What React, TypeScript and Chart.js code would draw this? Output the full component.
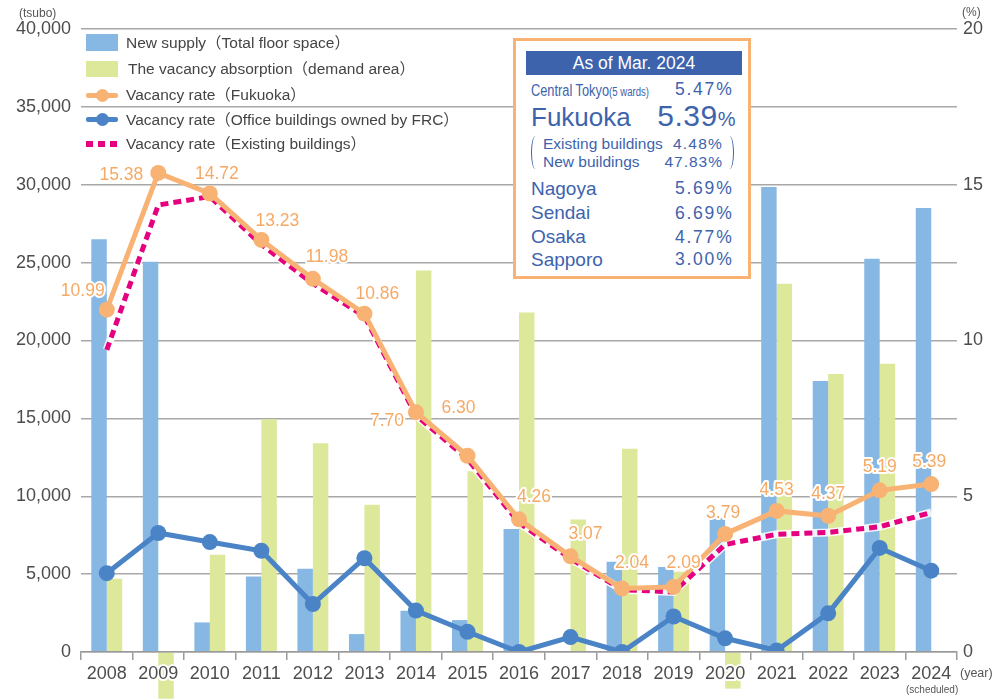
import React, { useEffect, useRef } from "react";
import { Chart, registerables } from "chart.js";

Chart.register(...registerables);

// ---------- data ----------
const years = ["2008", "2009", "2010", "2011", "2012", "2013", "2014", "2015", "2016", "2017", "2018", "2019", "2020", "2021", "2022", "2023", "2024"];
const newSupply = [26500, 25050, 1900, 4850, 5350, 1150, 2650, 2050, 7900, 0, 5800, 5450, 8600, 29850, 17400, 25250, 28500];
const absorption = [4700, -3000, 6250, 14950, 13400, 9450, 24500, 11600, 21800, 8500, 13050, 5150, -2350, 23650, 17850, 18500, null];
const vacancyFukuoka = [10.99, 15.38, 14.72, 13.23, 11.98, 10.86, 7.7, 6.3, 4.26, 3.07, 2.04, 2.09, 3.79, 4.53, 4.37, 5.19, 5.39];
const vacancyExisting = [9.7, 14.35, 14.62, 13.08, 11.83, 10.78, 7.6, 6.2, 4.15, 3.0, 2.0, 1.93, 3.45, 3.78, 3.84, 4.02, 4.48];
const vacancyFRC = [2.53, 3.82, 3.53, 3.25, 1.54, 3.01, 1.33, 0.65, 0, 0.48, 0, 1.14, 0.44, 0.05, 1.24, 3.34, 2.61];

const leftMin = 0;
const leftMax = 40000;
const leftStep = 5000;
const rightMin = 0;
const rightMax = 20;
const rightStep = 5;

const cityNames = ["Nagoya", "Sendai", "Osaka", "Sapporo"];
const cityRates = ["5.69%", "6.69%", "4.77%", "3.00%"];

// label placement offsets (style) for the Fukuoka data labels, dx/dy from point
const labelOffsets: [number, number][] = [
  [-24, -18], [-37, 2], [7, -19], [16, -19], [14, -22], [13, -20], [-29, 9], [-9, -48],
  [15, -22], [15, -22], [10, -25], [10, -24], [-2, -21], [0, -21], [0, -22], [0, -23], [-2, -22],
];

const FONT = '"Liberation Sans", Arial, "Noto Sans CJK JP", sans-serif';
const BAR_BLUE = "#86b8e3";
const BAR_GREEN = "#dde89b";
const ORANGE = "#f8b273";
const ORANGE_TXT = "#f6a965";
const LINE_BLUE = "#4a84c6";
const MAGENTA = "#e4007f";
const BOX_BLUE = "#3d63ad";
const GRID = "#a8a8a8";
const TICK = "#4d4d4d";

const fukuokaLabels = {
  id: "fukuokaLabels",
  afterDatasetsDraw(chart: any) {
    const idx = chart.data.datasets.findIndex((d: any) => d.label === "Vacancy rate（Fukuoka）");
    const meta = chart.getDatasetMeta(idx);
    const ctx = chart.ctx;
    ctx.save();
    ctx.font = `17.5px ${FONT}`;
    ctx.textAlign = "center";
    ctx.textBaseline = "middle";
    ctx.lineJoin = "round";
    ctx.lineWidth = 4;
    ctx.strokeStyle = "#ffffff";
    ctx.fillStyle = ORANGE_TXT;
    meta.data.forEach((pt: any, i: number) => {
      const v = chart.data.datasets[idx].data[i];
      const txt = Number(v).toFixed(2);
      const x = pt.x + labelOffsets[i][0];
      const y = pt.y + labelOffsets[i][1];
      ctx.strokeText(txt, x, y);
      ctx.fillText(txt, x, y);
    });
    ctx.restore();
  },
};

function place(baseline: number, size: number) {
  const lh = Math.round(size * 1.2);
  const top = baseline - ((lh - 1.117 * size) / 2 + 0.905 * size);
  return { top, lineHeight: `${lh}px`, fontSize: `${size}px` };
}

export default function App() {
  const ref = useRef<HTMLCanvasElement | null>(null);

  useEffect(() => {
    if (!ref.current) return;
    const chart = new Chart(ref.current, {
      type: "bar",
      data: {
        labels: years,
        datasets: [
          {
            type: "line",
            label: "Vacancy rate（Office buildings owned by FRC）",
            data: vacancyFRC,
            yAxisID: "y1",
            borderColor: LINE_BLUE,
            backgroundColor: LINE_BLUE,
            borderWidth: 5,
            pointRadius: 8,
            pointBorderWidth: 0,
            pointHoverRadius: 8,
            tension: 0,
            order: 1,
          } as any,
          {
            type: "line",
            label: "Vacancy rate（Fukuoka）",
            data: vacancyFukuoka,
            yAxisID: "y1",
            borderColor: ORANGE,
            backgroundColor: ORANGE,
            borderWidth: 5,
            pointRadius: 8,
            pointBorderWidth: 0,
            pointHoverRadius: 8,
            tension: 0,
            order: 2,
          } as any,
          {
            type: "line",
            label: "Vacancy rate（Existing buildings）",
            data: vacancyExisting,
            yAxisID: "y1",
            borderColor: MAGENTA,
            borderDash: [8, 5],
            borderWidth: 5,
            pointRadius: 0,
            tension: 0,
            order: 3,
          } as any,
          {
            type: "line",
            label: "halo",
            data: vacancyExisting,
            yAxisID: "y1",
            borderColor: "rgba(255,255,255,0.85)",
            borderWidth: 8,
            pointRadius: 0,
            tension: 0,
            order: 4,
          } as any,
          {
            type: "bar",
            label: "New supply（Total floor space）",
            data: newSupply,
            yAxisID: "y",
            backgroundColor: BAR_BLUE,
            categoryPercentage: 0.6,
            barPercentage: 1,
            clip: false,
            order: 10,
          } as any,
          {
            type: "bar",
            label: "The vacancy absorption（demand area）",
            data: absorption,
            yAxisID: "y",
            backgroundColor: BAR_GREEN,
            categoryPercentage: 0.6,
            barPercentage: 1,
            clip: false,
            order: 10,
          } as any,
        ],
      },
      options: {
        responsive: false,
        animation: false,
        events: [],
        layout: { padding: { top: 29, left: 0, right: 0, bottom: 0 } },
        plugins: { legend: { display: false }, tooltip: { enabled: false }, title: { display: false } },
        scales: {
          x: {
            grid: { display: true, drawOnChartArea: false, drawTicks: true, tickLength: 8, color: "#9a9a9a", lineWidth: 1.5, offset: true, z: 1 },
            border: { display: true, color: "#9a9a9a", width: 1.5, z: 1 },
            ticks: {
              z: 1,
              color: TICK,
              font: { family: FONT, size: 18 },
              padding: 3,
              maxRotation: 0,
              autoSkip: false,
              textStrokeColor: "#ffffff",
              textStrokeWidth: 4,
            } as any,
            afterFit: (s: any) => { s.height = 47; },
          } as any,
          y: {
            position: "left",
            min: leftMin,
            max: leftMax,
            ticks: { stepSize: leftStep, color: TICK, font: { family: FONT, size: 18 }, padding: 10 },
            grid: { color: GRID, lineWidth: 1.5, drawTicks: false },
            border: { display: false },
            afterFit: (s: any) => { s.width = 81; },
          },
          y1: {
            position: "right",
            min: rightMin,
            max: rightMax,
            ticks: { stepSize: rightStep, color: TICK, font: { family: FONT, size: 18 }, padding: 6 },
            grid: { display: false, drawTicks: false },
            border: { display: false },
            afterFit: (s: any) => { s.width = 36; },
          },
        },
      },
      plugins: [fukuokaLabels],
    });
    return () => chart.destroy();
  }, []);

  const legendText: React.CSSProperties = {
    position: "absolute",
    left: 126,
    fontFamily: FONT,
    fontSize: "15.5px",
    color: "#444",
    whiteSpace: "nowrap",
    lineHeight: "18px",
  };
  const boxTxt: React.CSSProperties = {
    position: "absolute",
    fontFamily: FONT,
    color: BOX_BLUE,
    whiteSpace: "nowrap",
  };

  return (
    <div style={{ position: "fixed", left: 0, top: 0, width: 993, height: 699, background: "#fff", overflow: "hidden" }}>
      <canvas ref={ref} width={993} height={699} style={{ position: "absolute", left: 0, top: 0 }} />

      {/* axis unit labels */}
      <div style={{ position: "absolute", left: 19, top: 6, fontFamily: FONT, fontSize: "12px", color: "#555", whiteSpace: "nowrap" }}>(tsubo)</div>
      <div style={{ position: "absolute", left: 962, top: 5, fontFamily: FONT, fontSize: "12px", color: "#555", whiteSpace: "nowrap" }}>(%)</div>
      <div style={{ position: "absolute", left: 960, top: 666, fontFamily: FONT, fontSize: "12.5px", color: "#555", whiteSpace: "nowrap" }}>(year)</div>
      <div style={{ position: "absolute", left: 906, top: 684, fontFamily: FONT, fontSize: "10px", color: "#555", whiteSpace: "nowrap" }}>(scheduled)</div>

      {/* legend */}
      <div style={{ position: "absolute", left: 86, top: 34, width: 32, height: 17, background: BAR_BLUE }} />
      <div style={{ ...legendText, top: 34 }}>New supply（Total floor space）</div>
      <div style={{ position: "absolute", left: 86, top: 61, width: 32, height: 16, background: BAR_GREEN }} />
      <div style={{ ...legendText, top: 60, left: 128 }}>The vacancy absorption（demand area）</div>
      <div style={{ position: "absolute", left: 86, top: 93, width: 32, height: 5, background: ORANGE, borderRadius: 2 }} />
      <div style={{ position: "absolute", left: 96, top: 89, width: 13, height: 13, background: ORANGE, borderRadius: "50%" }} />
      <div style={{ ...legendText, top: 86 }}>Vacancy rate（Fukuoka）</div>
      <div style={{ position: "absolute", left: 86, top: 117, width: 32, height: 5, background: LINE_BLUE, borderRadius: 2 }} />
      <div style={{ position: "absolute", left: 96, top: 113, width: 13, height: 13, background: LINE_BLUE, borderRadius: "50%" }} />
      <div style={{ ...legendText, top: 111 }}>Vacancy rate（Office buildings owned by FRC）</div>
      <div style={{ position: "absolute", left: 86, top: 141, width: 7, height: 6, background: MAGENTA }} />
      <div style={{ position: "absolute", left: 98, top: 141, width: 7, height: 6, background: MAGENTA }} />
      <div style={{ position: "absolute", left: 110, top: 141, width: 7, height: 6, background: MAGENTA }} />
      <div style={{ ...legendText, top: 135 }}>Vacancy rate（Existing buildings）</div>

      {/* info box */}
      <div style={{ position: "absolute", left: 513, top: 38, width: 238, height: 241, border: `3px solid ${ORANGE}`, background: "#fff", boxSizing: "border-box" }} />
      <div style={{ position: "absolute", left: 526, top: 51, width: 216, height: 24, background: BOX_BLUE, color: "#fff", fontFamily: FONT, fontSize: "17.5px", lineHeight: "24px", textAlign: "center", whiteSpace: "nowrap" }}>As of Mar. 2024</div>

      <div style={{ ...boxTxt, left: 531, ...place(95.7, 16), transform: "scaleX(0.8)", transformOrigin: "0 50%" }}>
        Central Tokyo<span style={{ fontSize: "12px" }}>(5 wards)</span>
      </div>
      <div style={{ ...boxTxt, right: 993 - 733.5, ...place(95.7, 17.5), letterSpacing: "1.8px" }}>5.47%</div>

      <div style={{ ...boxTxt, left: 531, ...place(126.7, 26) }}>Fukuoka</div>
      <div style={{ ...boxTxt, right: 993 - 736, ...place(126, 30), letterSpacing: "0.5px" }}>
        5.39<span style={{ fontSize: "20px" }}>%</span>
      </div>

      <div style={{ position: "absolute", left: 531, top: 136, width: 9, height: 33, borderLeft: `1.5px solid ${BOX_BLUE}`, borderRadius: "50%", boxSizing: "border-box" }} />
      <div style={{ position: "absolute", left: 725, top: 136, width: 9, height: 33, borderRight: `1.5px solid ${BOX_BLUE}`, borderRadius: "50%", boxSizing: "border-box" }} />
      <div style={{ ...boxTxt, left: 543, ...place(149, 15.5) }}>Existing buildings</div>
      <div style={{ ...boxTxt, right: 993 - 723, ...place(149, 15.5), letterSpacing: "1.2px" }}>4.48%</div>
      <div style={{ ...boxTxt, left: 543, ...place(167.3, 15.5) }}>New buildings</div>
      <div style={{ ...boxTxt, right: 993 - 723, ...place(167.3, 15.5), letterSpacing: "1px" }}>47.83%</div>

      {cityNames.map((name, i) => {
        const base = [195, 219.3, 243.3, 266][i];
        return (
          <React.Fragment key={name}>
            <div style={{ ...boxTxt, left: 531, ...place(base, 19) }}>{name}</div>
            <div style={{ ...boxTxt, right: 993 - 733.5, ...place(base, 17.5), letterSpacing: "1.8px" }}>{cityRates[i]}</div>
          </React.Fragment>
        );
      })}
    </div>
  );
}
